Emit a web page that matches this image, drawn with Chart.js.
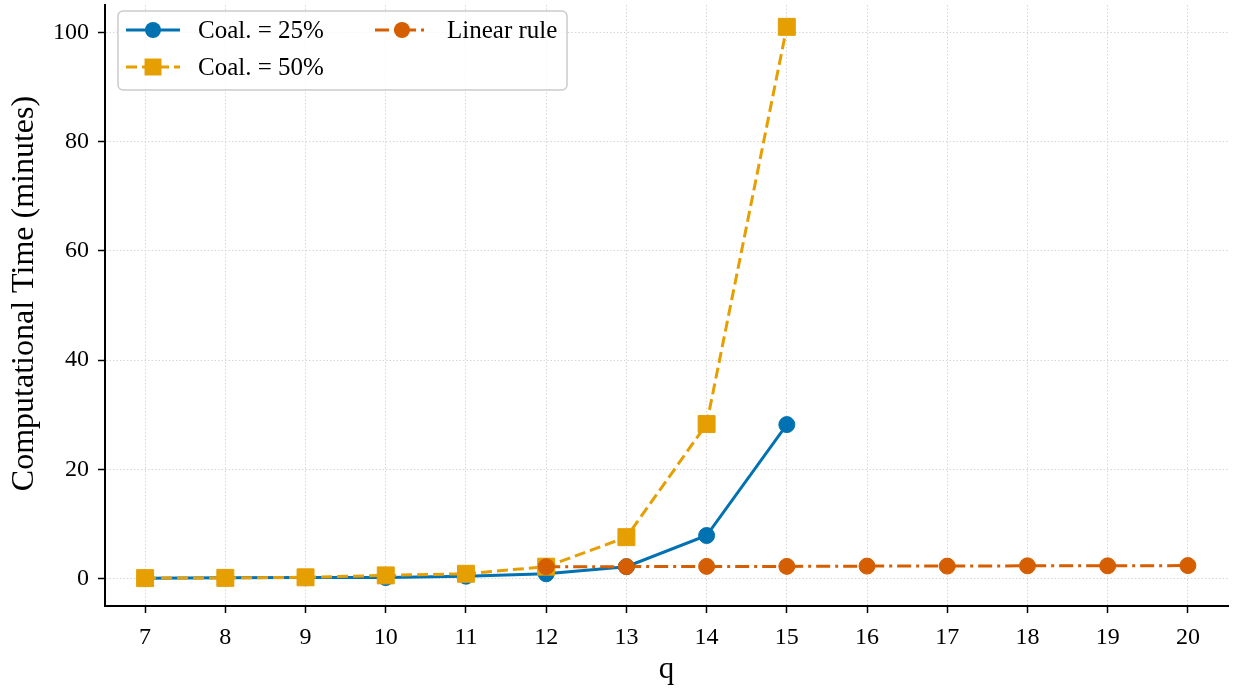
<!DOCTYPE html>
<html><head><meta charset="utf-8">
<script src="https://cdn.jsdelivr.net/npm/chart.js@4/dist/chart.umd.min.js"></script>
<style>html,body{margin:0;padding:0;background:#fff}#wrap{width:1233px;height:690px;position:relative}</style>
</head><body><div id="wrap"><canvas id="c" width="1233" height="690"></canvas></div>
<script>
const qLabels = ['7','8','9','10','11','12','13','14','15','16','17','18','19','20'];
const coal25 = [0.1, 0.15, 0.2, 0.2, 0.45, 0.9, 2.2, 7.9, 28.2, null, null, null, null, null];
const coal50 = [0.1, 0.15, 0.25, 0.6, 0.9, 2.2, 7.6, 28.3, 101, null, null, null, null, null];
const linearRule = [null, null, null, null, null, 2.2, 2.2, 2.25, 2.25, 2.3, 2.3, 2.35, 2.35, 2.4];
const yTicks = [0, 20, 40, 60, 80, 100];
const seriesNames = ['Coal. = 25%', 'Coal. = 50%', 'Linear rule'];
const xTitle = 'q';
const yTitle = 'Computational Time (minutes)';

const FONT = '"Liberation Serif", "Times New Roman", serif';
const BLUE = '#0072B2', YEL = '#E69F00', ORG = '#D55E00';

const yTitlePlugin = {
  id: 'yTitle',
  afterDraw(chart) {
    const ctx = chart.ctx;
    const ca = chart.chartArea;
    ctx.save();
    ctx.translate(25, (ca.top + ca.bottom) / 2 - 12);
    ctx.rotate(-Math.PI / 2);
    ctx.fillStyle = '#000';
    ctx.font = '32px ' + FONT;
    ctx.textAlign = 'center';
    ctx.textBaseline = 'middle';
    ctx.fillText(yTitle, 0, 0);
    ctx.restore();
  }
};

const legendPlugin = {
  id: 'customLegend',
  afterDraw(chart) {
    const ctx = chart.ctx;
    const ca = chart.chartArea;
    const bx = ca.left + 13, by = ca.top + 6, bw = 449, bh = 79;
    ctx.save();
    ctx.beginPath();
    ctx.roundRect(bx, by, bw, bh, 5);
    ctx.fillStyle = 'rgba(255,255,255,0.8)';
    ctx.fill();
    ctx.strokeStyle = '#cccccc';
    ctx.lineWidth = 1.5;
    ctx.stroke();
    const slots = [{col:0,row:0},{col:1,row:0},{col:0,row:1}];
    const dsOrder = [0, 2, 1];
    dsOrder.forEach((di, k) => {
      const ds = chart.data.datasets[di];
      const s = slots[k];
      const lx = bx + 8 + s.col * 249;
      const ly = by + 19 + s.row * 37;
      ctx.save();
      ctx.strokeStyle = ds.borderColor;
      ctx.lineWidth = ds.borderWidth;
      ctx.setLineDash(ds.borderDash || []);
      ctx.beginPath(); ctx.moveTo(lx, ly); ctx.lineTo(lx + 54, ly); ctx.stroke();
      ctx.restore();
      ctx.fillStyle = ds.backgroundColor;
      ctx.beginPath();
      if (ds.pointStyle === 'rect') {
        const h = ds.pointRadius * Math.SQRT1_2;
        ctx.rect(lx + 27 - h, ly - h, 2*h, 2*h);
      } else {
        ctx.arc(lx + 27, ly, ds.pointRadius, 0, Math.PI*2);
      }
      ctx.fill();
      ctx.fillStyle = '#000';
      ctx.font = '25px ' + FONT;
      ctx.textBaseline = 'middle';
      ctx.textAlign = 'left';
      ctx.fillText(ds.label, lx + 72, ly + 1);
    });
    ctx.restore();
  }
};

new Chart(document.getElementById('c'), {
  type: 'line',
  data: {
    labels: qLabels,
    datasets: [
      {label: seriesNames[0], data: coal25, borderColor: BLUE, backgroundColor: BLUE, borderWidth: 3,
       pointStyle: 'circle', pointRadius: 8, pointHoverRadius: 8, pointBorderWidth: 1, order: 3, tension: 0},
      {label: seriesNames[1], data: coal50, borderColor: YEL, backgroundColor: YEL, borderWidth: 3, borderDash: [11, 5],
       pointStyle: 'rect', pointRadius: 12, pointHoverRadius: 12, pointBorderWidth: 1, order: 2, tension: 0},
      {label: seriesNames[2], data: linearRule, borderColor: ORG, backgroundColor: ORG, borderWidth: 3, borderDash: [14, 5, 3, 5],
       pointStyle: 'circle', pointRadius: 8, pointHoverRadius: 8, pointBorderWidth: 1, order: 1, tension: 0}
    ]
  },
  options: {
    responsive: false,
    animation: false,
    devicePixelRatio: 1,
    layout: {autoPadding: false, padding: {top: 5, right: 5, left: 0, bottom: 0}},
    plugins: {legend: {display: false}, tooltip: {enabled: false}},
    scales: {
      x: {
        type: 'category', offset: true,
        grid: {color: '#d6d6d6', lineWidth: 1, tickColor: '#000', tickLength: 7, tickWidth: 1.5, tickBorderDash: []},
        border: {color: '#000', width: 2, dash: [1.5, 2]},
        ticks: {color: '#000', font: {family: FONT, size: 24}, padding: 10, maxRotation: 0, autoSkip: false},
        title: {display: true, text: xTitle, color: '#000', font: {family: FONT, size: 31}, padding: {top: 0, bottom: 2}},
        afterFit: s => { s.height = 84; s.paddingLeft = 0; s.paddingRight = 0; }
      },
      y: {
        min: -5, max: 105,
        afterBuildTicks: s => { s.ticks = yTicks.map(v => ({value: v})); },
        grid: {color: '#d6d6d6', lineWidth: 1, tickColor: '#000', tickLength: 7, tickWidth: 1.5, tickBorderDash: []},
        border: {color: '#000', width: 2, dash: [1.5, 2]},
        ticks: {color: '#000', font: {family: FONT, size: 24}, padding: 9},
        title: {display: false},
        afterFit: s => { s.width = 105; s.paddingTop = 0; s.paddingBottom = 0; }
      }
    }
  },
  plugins: [legendPlugin, yTitlePlugin]
});
</script>
</body></html>
